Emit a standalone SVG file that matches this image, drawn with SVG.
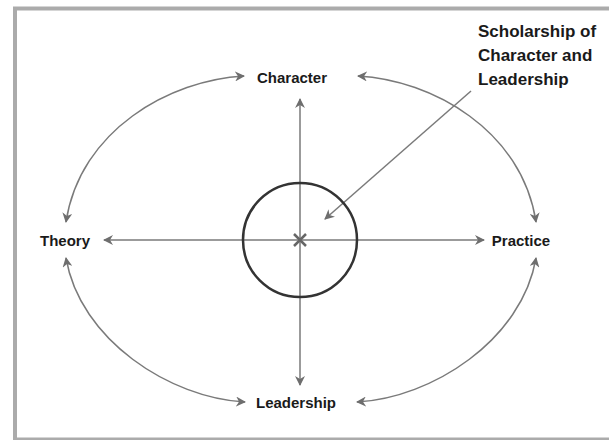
<svg xmlns="http://www.w3.org/2000/svg" width="609" height="440" viewBox="0 0 609 440">
<defs>
<marker id="ah" viewBox="0 0 10 10" refX="9" refY="5" markerWidth="10" markerHeight="10" markerUnits="userSpaceOnUse" orient="auto-start-reverse">
<path d="M0,0 L10,5 L0,10 L3,5 z" fill="#6e6e6e"/>
</marker>
<style>
.lbl{font-family:"Liberation Sans",Arial,sans-serif;font-weight:bold;font-size:15px;fill:#1a1a1a}
.ln{fill:none;stroke:#7a7a7a;stroke-width:1.5}
</style>
</defs>
<rect x="0" y="0" width="609" height="440" fill="#fff"/>
<rect x="15" y="8.5" width="700" height="431" fill="#fff" stroke="#ababab" stroke-width="4"/>
<g id="connectors">
<line class="ln" x1="300" y1="240" x2="300" y2="99" marker-end="url(#ah)"/>
<line class="ln" x1="300" y1="240" x2="300" y2="385" marker-end="url(#ah)"/>
<line class="ln" x1="300" y1="240" x2="104" y2="240" marker-end="url(#ah)"/>
<line class="ln" x1="300" y1="240" x2="484" y2="240" marker-end="url(#ah)"/>
<line class="ln" x1="471" y1="91" x2="325" y2="219" marker-end="url(#ah)"/>
<path class="ln" d="M244 76 C170 80 80 130 66 222" marker-start="url(#ah)" marker-end="url(#ah)"/>
<path class="ln" d="M358 76 C432 80 522 130 536 222" marker-start="url(#ah)" marker-end="url(#ah)"/>
<path class="ln" d="M66 258 C80 340 170 398 245 402" marker-start="url(#ah)" marker-end="url(#ah)"/>
<path class="ln" d="M536 258 C522 340 432 398 357 402" marker-start="url(#ah)" marker-end="url(#ah)"/>
</g>
<g id="center">
<circle cx="300" cy="240" r="57" fill="none" stroke="#333" stroke-width="2.5"/>
<path d="M294 234 L306 246 M306 234 L294 246" stroke="#666" stroke-width="2.5"/>
</g>
<g id="character"><text class="lbl" x="292" y="83" text-anchor="middle">Character</text></g>
<g id="theory"><text class="lbl" x="65" y="246" text-anchor="middle">Theory</text></g>
<g id="practice"><text class="lbl" x="521" y="246" text-anchor="middle">Practice</text></g>
<g id="leadership"><text class="lbl" x="296" y="408" text-anchor="middle">Leadership</text></g>
<g id="scholarship"><text class="lbl" x="478" y="37" style="font-size:17px"><tspan x="478" y="37">Scholarship of</tspan><tspan x="478" y="61">Character and</tspan><tspan x="478" y="85">Leadership</tspan></text></g>
</svg>
